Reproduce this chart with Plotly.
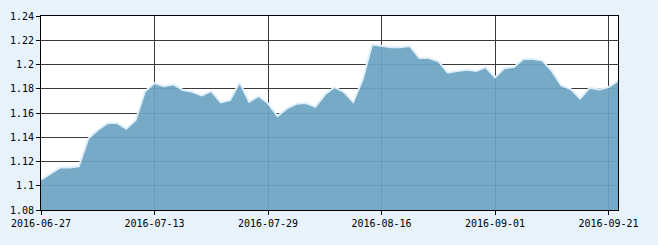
import plotly.graph_objects as go

dates = [
    "2016-06-27", "2016-06-28", "2016-06-29", "2016-06-30", "2016-07-01",
    "2016-07-04", "2016-07-05", "2016-07-06", "2016-07-07", "2016-07-08",
    "2016-07-11", "2016-07-12", "2016-07-13", "2016-07-14", "2016-07-15",
    "2016-07-18", "2016-07-19", "2016-07-20", "2016-07-21", "2016-07-22",
    "2016-07-25", "2016-07-26", "2016-07-27", "2016-07-28", "2016-07-29",
    "2016-08-01", "2016-08-02", "2016-08-03", "2016-08-04", "2016-08-05",
    "2016-08-08", "2016-08-09", "2016-08-10", "2016-08-11", "2016-08-12",
    "2016-08-15", "2016-08-16", "2016-08-17", "2016-08-18", "2016-08-19",
    "2016-08-22", "2016-08-23", "2016-08-24", "2016-08-25", "2016-08-26",
    "2016-08-29", "2016-08-30", "2016-08-31", "2016-09-01", "2016-09-02",
    "2016-09-05", "2016-09-06", "2016-09-07", "2016-09-08", "2016-09-09",
    "2016-09-12", "2016-09-13", "2016-09-14", "2016-09-19", "2016-09-20",
    "2016-09-21", "2016-09-22",
]

values = [
    1.105, 1.110, 1.115, 1.115, 1.116, 1.139, 1.146, 1.1515, 1.152, 1.147,
    1.154, 1.178, 1.1846, 1.182, 1.1836, 1.179, 1.1775, 1.1745, 1.178, 1.1687,
    1.1707, 1.1853, 1.1693, 1.174, 1.168, 1.1575, 1.1638, 1.1676, 1.1682, 1.1652,
    1.175, 1.1813, 1.1775, 1.1692, 1.1875, 1.2165, 1.2151, 1.2142, 1.2142, 1.2152,
    1.2053, 1.2053, 1.2027, 1.1933, 1.1947, 1.1957, 1.1947, 1.1977, 1.1895, 1.197,
    1.198, 1.2046, 1.2046, 1.2032, 1.1947, 1.1827, 1.1798, 1.172, 1.1808, 1.1795,
    1.1813, 1.1865,
]

x_tick_dates = ["2016-06-27", "2016-07-13", "2016-07-29", "2016-08-16", "2016-09-01", "2016-09-21"]
y_tick_vals = [1.08, 1.10, 1.12, 1.14, 1.16, 1.18, 1.20, 1.22, 1.24]
y_tick_text = ["1.08", "1.1", "1.12", "1.14", "1.16", "1.18", "1.2", "1.22", "1.24"]

fig = go.Figure()
fig.add_trace(go.Scatter(
    x=dates, y=values, mode="lines", fill="tozeroy",
    fillcolor="rgba(108,164,195,0.93)",
    line=dict(color="rgba(225,240,250,0.95)", width=2),
    hoverinfo="x+y",
))

font = dict(family="DejaVu Sans Mono", size=10, color="#000")
fig.update_layout(
    width=658, height=245,
    margin=dict(l=39, r=40, t=10, b=35),
    paper_bgcolor="#e7f2fb",
    plot_bgcolor="#ffffff",
    showlegend=False,
    font=font,
    xaxis=dict(
        type="category", range=[0, len(dates) - 1],
        tickmode="array", tickvals=x_tick_dates, ticktext=x_tick_dates,
        showgrid=True, gridcolor="#3a3a3a", gridwidth=1,
        showline=True, linecolor="#000", linewidth=1, mirror=True,
        ticks="outside", ticklen=4, tickcolor="#000",
        zeroline=False, tickfont=font,
    ),
    yaxis=dict(
        range=[1.08, 1.24],
        tickmode="array", tickvals=y_tick_vals, ticktext=y_tick_text,
        showgrid=True, gridcolor="#3a3a3a", gridwidth=1,
        showline=True, linecolor="#000", linewidth=1, mirror=True,
        ticks="outside", ticklen=4, tickcolor="#000",
        zeroline=False, tickfont=font,
    ),
)

fig.write_html("out.html")
